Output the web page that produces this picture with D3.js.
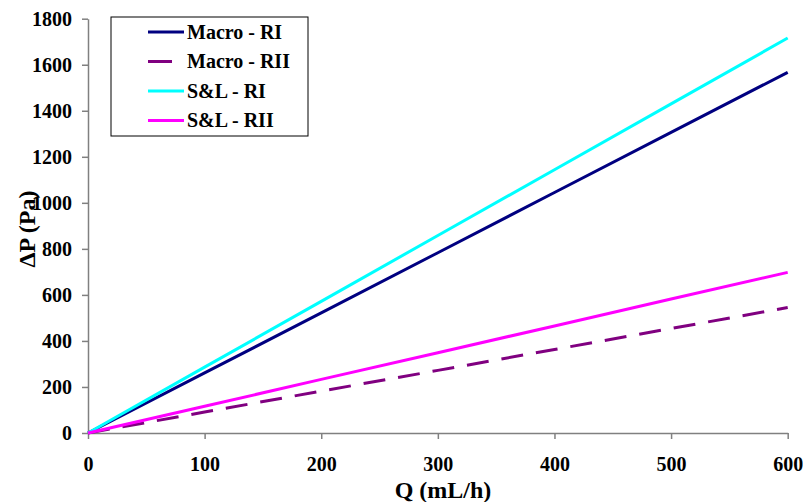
<!DOCTYPE html>
<html>
<head>
<meta charset="utf-8">
<script src="https://cdn.jsdelivr.net/npm/d3@7"></script>
<style>
  html, body { margin: 0; padding: 0; background: #fff; }
  svg { display: block; }
  text { font-family: "Liberation Serif", "Times New Roman", serif; font-weight: bold; fill: #000; }
</style>
</head>
<body>
<svg id="chart" width="803" height="502"></svg>
<script>
const qValues = [0, 100, 200, 300, 400, 500, 600];
const macroRI = [0, 261, 522, 783, 1045, 1306, 1567];
const macroRII = [0, 91, 182, 272, 363, 454, 545];
const slRI = [0, 286, 572, 858, 1144, 1430, 1716];
const slRII = [0, 116, 233, 349, 465, 582, 698];
const seriesNames = ["Macro - RI", "Macro - RII", "S&L - RI", "S&L - RII"];
const xTicks = [0, 100, 200, 300, 400, 500, 600];
const yTicks = [0, 200, 400, 600, 800, 1000, 1200, 1400, 1600, 1800];

const series = [
  { name: seriesNames[0], values: macroRI, color: "#000080", dash: null },
  { name: seriesNames[1], values: macroRII, color: "#800080", dash: "22,13" },
  { name: seriesNames[2], values: slRI, color: "#00FFFF", dash: null },
  { name: seriesNames[3], values: slRII, color: "#FF00FF", dash: null }
];

const svg = d3.select("#chart");
const mLeft = 88, mRight = 787.7, mTop = 18.7, mBottom = 433;
const x = d3.scaleLinear().domain([0, 600]).range([mLeft, mRight]);
const y = d3.scaleLinear().domain([0, 1800]).range([mBottom, mTop]);
const fmt = d3.format("d");

// axes
const xAxis = svg.append("g").attr("transform", `translate(0,${mBottom})`)
  .call(d3.axisBottom(x).tickValues(xTicks).tickFormat(fmt).tickSizeInner(6).tickSizeOuter(0).tickPadding(18));
const yAxis = svg.append("g").attr("transform", `translate(${mLeft},0)`)
  .call(d3.axisLeft(y).tickValues(yTicks).tickFormat(fmt).tickSizeInner(6).tickSizeOuter(0).tickPadding(10));
[xAxis, yAxis].forEach(g => {
  g.attr("font-family", "'Liberation Serif', serif").attr("font-size", 20).attr("font-weight", "bold");
  g.select(".domain").attr("stroke", "#808080").attr("stroke-width", 1.5);
  g.selectAll(".tick line").attr("stroke", "#808080").attr("stroke-width", 1.5);
  g.selectAll(".tick text").attr("fill", "#000");
});
xAxis.selectAll(".tick text").attr("dy", "0.68em");

// lines
const line = d3.line().x((d, i) => x(qValues[i])).y(d => y(d));
series.forEach(s => {
  svg.append("path")
    .datum(s.values)
    .attr("d", line)
    .attr("fill", "none")
    .attr("stroke", s.color)
    .attr("stroke-width", 3)
    .attr("stroke-dasharray", s.dash);
});

// axis titles
svg.append("text")
  .attr("x", 443)
  .attr("y", 498)
  .attr("text-anchor", "middle")
  .style("font-size", "24px")
  .text("Q (mL/h)");
svg.append("text")
  .attr("transform", "translate(35,229) rotate(-90)")
  .attr("text-anchor", "middle")
  .style("font-size", "24px")
  .text("ΔP (Pa)");

// legend
const lg = svg.append("g");
lg.append("rect").attr("x", 111).attr("y", 17).attr("width", 197).attr("height", 119)
  .attr("fill", "#fff").attr("stroke", "#000").attr("stroke-width", 1);
series.forEach((s, i) => {
  const yy = 32 + i * 29.5;
  lg.append("line")
    .attr("x1", 148).attr("x2", s.dash ? 172 : 184)
    .attr("y1", yy).attr("y2", yy)
    .attr("stroke", s.color).attr("stroke-width", 3);
  lg.append("text").attr("x", 187).attr("y", yy + 6.5)
    .style("font-size", "20px").text(s.name);
});
</script>
</body>
</html>
